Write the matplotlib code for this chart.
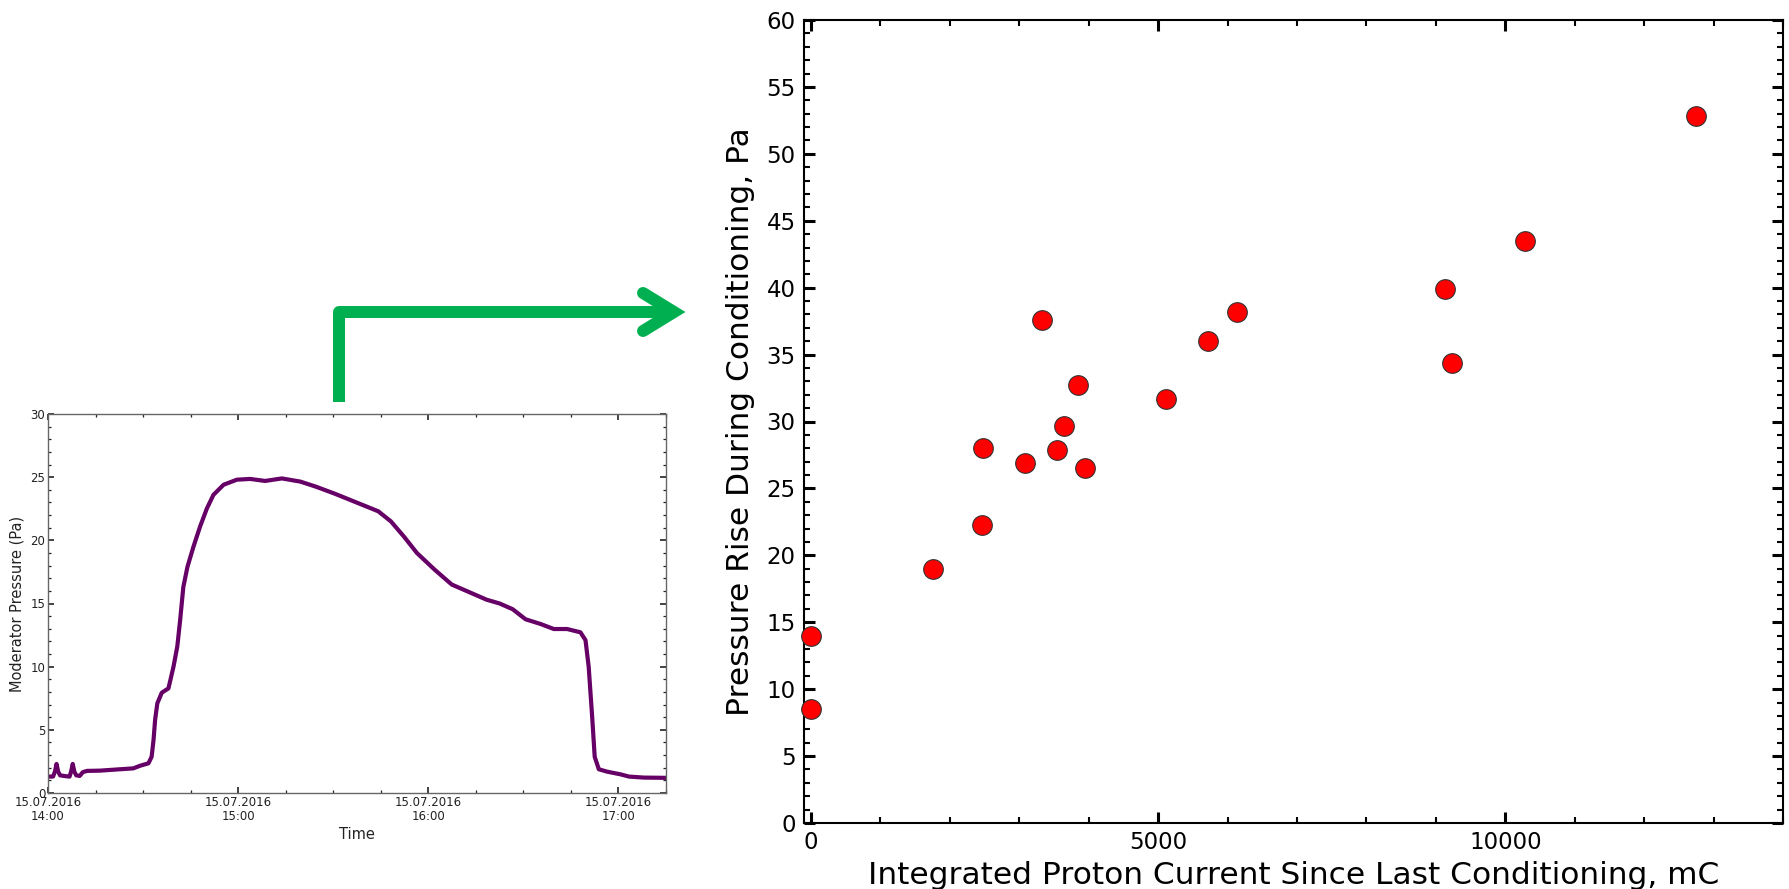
import matplotlib
matplotlib.use("Agg")
import matplotlib.pyplot as plt
import matplotlib.dates as mdates
from matplotlib.ticker import MultipleLocator
from matplotlib.lines import Line2D
import pandas as pd

# ---------------- data ----------------
# small inset: moderator pressure vs time (minutes after 15.07.2016 14:00)
time_minutes = [0, 1.6, 2.2, 2.7, 3.2, 3.8, 5.0, 6.8, 7.3, 7.8, 8.3, 8.9, 10.0, 11.0,
                12.3, 16.4, 21.0, 26.9, 29.1, 31.7, 32.7, 33.3, 33.8, 34.5, 35.9, 38.0,
                39.6, 40.8, 41.7, 42.7, 44.0, 45.9, 48.0, 50.1, 52.2, 55.4, 59.6, 63.8,
                68.5, 73.8, 79.6, 84.5, 90.4, 97.3, 104.2, 108.2, 112.3, 116.4, 121.9,
                127.4, 132.9, 138.4, 142.5, 146.6, 150.7, 155.4, 159.6, 163.8, 168.0,
                169.6, 170.6, 171.7, 172.5, 173.8, 176.4, 180.6, 183.3, 188.0, 195.0]
pressure_pa = [1.3, 1.3, 1.7, 2.3, 1.7, 1.4, 1.35, 1.3, 1.7, 2.3, 1.7, 1.4, 1.35, 1.65,
               1.75, 1.77, 1.85, 1.95, 2.16, 2.35, 2.87, 4.2, 5.8, 7.1, 7.94, 8.28,
               10.0, 11.6, 13.7, 16.3, 17.9, 19.5, 21.1, 22.5, 23.6, 24.4, 24.8, 24.86,
               24.7, 24.9, 24.65, 24.25, 23.7, 23.0, 22.3, 21.5, 20.3, 19.0, 17.7,
               16.5, 15.9, 15.3, 15.0, 14.55, 13.75, 13.38, 12.98, 12.98, 12.72,
               12.1, 10.0, 6.04, 2.87, 1.88, 1.69, 1.48, 1.3, 1.22, 1.2]

# main scatter: pressure rise vs integrated proton current
integrated_current_mC = [0, 0, 1754, 2459, 2475, 3082, 3328, 3541, 3639, 3852, 3951,
                         5115, 5721, 6131, 9131, 9230, 10279, 12754]
pressure_rise_pa = [14.0, 8.5, 19.0, 22.3, 28.0, 26.9, 37.6, 27.9, 29.7, 32.7, 26.5,
                    31.7, 36.0, 38.2, 39.9, 34.4, 43.5, 52.8]

W, H = 1789, 889
fig = plt.figure(figsize=(W / 100, H / 100), dpi=100)
plt.rcParams['font.family'] = ['DejaVu Sans']


def px_axes(left, top, right, bottom):
    return [left / W, 1 - bottom / H, (right - left) / W, (bottom - top) / H]


# ---------------- small inset ----------------
ax1 = fig.add_axes(px_axes(48, 414, 666, 793))
t0 = pd.Timestamp("2016-07-15 14:00")
times = t0 + pd.to_timedelta(time_minutes, unit="m")
ax1.plot(times, pressure_pa, color="#660066", lw=3.0,
         solid_joinstyle="round", solid_capstyle="round")
ax1.set_xlim(t0, t0 + pd.Timedelta(minutes=195))
ax1.set_ylim(0, 30)
ax1.yaxis.set_major_locator(MultipleLocator(5))
ax1.yaxis.set_minor_locator(MultipleLocator(1))
ax1.xaxis.set_major_locator(mdates.HourLocator())
ax1.xaxis.set_minor_locator(mdates.MinuteLocator(byminute=[15, 30, 45]))
ax1.xaxis.set_major_formatter(mdates.DateFormatter("%d.%m.%Y\n%H:%M"))
ax1.tick_params(which="both", direction="in", top=True, right=True,
                labelsize=8.5, labelcolor="#222222", color="#222222", pad=2)
ax1.tick_params(which="major", length=4.5, width=1.2)
ax1.tick_params(which="minor", length=2.5, width=0.9)
for lbl in ax1.get_xticklabels():
    lbl.set_linespacing(1.1)
for s in ax1.spines.values():
    s.set_color("#666666")
    s.set_linewidth(1.0)
ax1.set_xlabel("Time", fontsize=10.5, color="#222222", labelpad=3)
ax1.set_ylabel("Moderator Pressure (Pa)", fontsize=10.5, color="#222222", labelpad=4)

# ---------------- main scatter ----------------
ax2 = fig.add_axes(px_axes(804, 20, 1783, 823))
ax2.scatter(integrated_current_mC, pressure_rise_pa, s=200, c="red",
            edgecolors="#333333", linewidths=0.8, zorder=3, clip_on=False)
ax2.set_xlim(-100, 14000)
ax2.set_ylim(0, 60)
ax2.xaxis.set_major_locator(MultipleLocator(5000))
ax2.xaxis.set_minor_locator(MultipleLocator(1000))
ax2.yaxis.set_major_locator(MultipleLocator(5))
ax2.yaxis.set_minor_locator(MultipleLocator(1))
ax2.tick_params(which="both", direction="in", top=True, right=True,
                labelsize=16.5, pad=6)
ax2.tick_params(which="major", length=8, width=2.2)
ax2.tick_params(which="minor", length=4.5, width=1.5)
for s in ax2.spines.values():
    s.set_color("black")
    s.set_linewidth(1.5)
ax2.set_xlabel("Integrated Proton Current Since Last Conditioning, mC",
               fontsize=22.5, labelpad=5)
ax2.set_ylabel("Pressure Rise During Conditioning, Pa", fontsize=22.5, labelpad=8)

# ---------------- green arrow (figure pixel space) ----------------
def fx(x):
    return x / W


def fy(y):
    return 1 - y / H


green = "#00B050"
lw_arrow = 12 * 72 / 100
fig.add_artist(Line2D([fx(338.5), fx(338.5), fx(676)], [fy(402), fy(312), fy(312)],
                      transform=fig.transFigure, color=green, lw=lw_arrow,
                      solid_capstyle="butt", solid_joinstyle="round"))
fig.add_artist(Line2D([fx(643), fx(674), fx(643)], [fy(293), fy(312), fy(331)],
                      transform=fig.transFigure, color=green, lw=lw_arrow,
                      solid_capstyle="round", solid_joinstyle="miter"))

fig.savefig("out.png", dpi=100)
